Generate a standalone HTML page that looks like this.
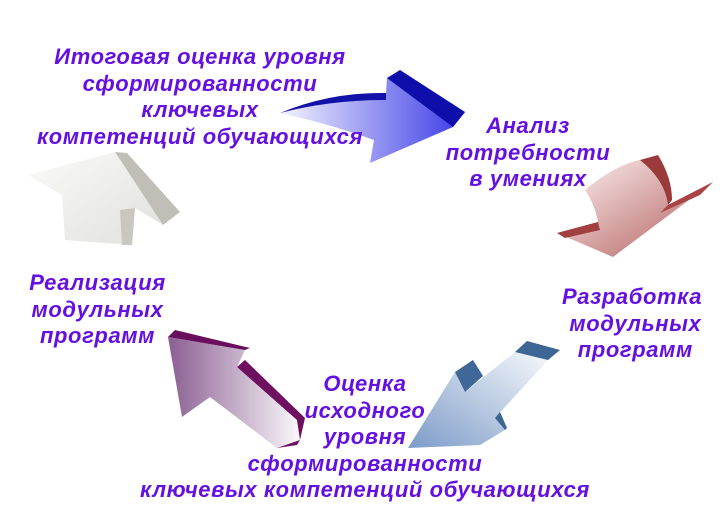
<!DOCTYPE html>
<html><head><meta charset="utf-8"><style>
body{margin:0;width:724px;height:518px;background:#fff;overflow:hidden;position:relative}
.t{position:absolute;font-family:"Liberation Sans",sans-serif;font-weight:bold;font-style:italic;color:#6410e2;font-size:22px;letter-spacing:0.6px;line-height:26.5px;text-align:center;white-space:nowrap}
svg{position:absolute;left:0;top:0}
</style></head><body>
<svg width="724" height="518">
<defs>
<linearGradient id="gb" x1="0" y1="0" x2="1" y2="0"><stop offset="0" stop-color="#f4f4ff"/><stop offset="1" stop-color="#3a3ae6"/></linearGradient>
<linearGradient id="gr" x1="0" y1="0" x2="1" y2="1"><stop offset="0" stop-color="#fff4f4"/><stop offset="1" stop-color="#b05a5a"/></linearGradient>
<linearGradient id="gl" x1="1" y1="0" x2="0" y2="1"><stop offset="0" stop-color="#f6f8fc"/><stop offset="1" stop-color="#7d9cc8"/></linearGradient>
<linearGradient id="gp" x1="1" y1="0" x2="0" y2="0"><stop offset="0" stop-color="#fbf8fb"/><stop offset="1" stop-color="#8a5f92"/></linearGradient>
<linearGradient id="gw" x1="0" y1="0" x2="1" y2="1"><stop offset="0" stop-color="#fafaf8"/><stop offset="1" stop-color="#e0e0dc"/></linearGradient>
</defs>
<path d="M280,113 Q330,92 386,93 L387,78 L465,112 L453,127 L370,163 L374,140 Q330,124 280,113Z" fill="url(#gb)"/>
<path d="M280,113 Q330,92 386,93 L386,100 Q330,100 280,113Z" fill="#1212a8"/>
<path d="M387,78 L400,70 L465,112 L453,127Z" fill="#0e0eaa"/>
<path d="M585,190 Q615,165 640,160 Q665,180 668,205 L713,182 L613,257 L557,233 L598,222 Q595,205 585,190Z" fill="url(#gr)"/>
<path d="M640,160 L658,155 Q672,178 672,200 L668,205 Q665,180 640,160Z" fill="#9a3a3a"/>
<path d="M668,205 L713,182 L700,195 L660,213Z" fill="#a84444"/>
<path d="M557,233 L598,222 L600,230 L565,238Z" fill="#a04040"/>
<path d="M408,448 L455,372 L465,392 L515,352 L548,360 L495,418 L505,430 L480,445Z" fill="url(#gl)"/>
<path d="M455,372 L473,360 L483,376 L465,392Z" fill="#3f6798"/>
<path d="M515,352 L527,341 L560,350 L548,360Z" fill="#3d6694"/>
<path d="M495,418 L500,412 L507,428 L505,430Z" fill="#3d6694"/>
<path d="M168,337 L245,350 L237,367 L300,420 L300,440 L277,448 L210,397 L182,417Z" fill="url(#gp)"/>
<path d="M168,337 L175,330 L250,348 L245,350Z" fill="#6a0f5e"/>
<path d="M237,367 L245,360 L305,418 L300,440 L297,420Z" fill="#6e105f"/>
<path d="M277,448 L300,440 L297,445Z" fill="#6e105f"/>
<path d="M28,175 L115,152 L163,225 L135,208 L132,245 L65,240 L62,195Z" fill="url(#gw)"/>
<path d="M115,152 L127,153 L180,212 L163,225Z" fill="#bfbfb8"/>
<path d="M120,210 L135,208 L132,245 L122,245Z" fill="#c8c8c0"/>
</svg>
<div class="t" style="left:0;width:400px;top:44px">Итоговая оценка уровня<br>сформированности<br>ключевых<br>компетенций обучающихся</div>
<div class="t" style="left:428px;width:200px;top:113px">Анализ<br>потребности<br>в умениях</div>
<div class="t" style="left:532px;width:200px;top:284px">Разработка<br>&nbsp;модульных<br>&nbsp;программ</div>
<div class="t" style="left:0;width:195px;top:270px">Реализация<br>модульных<br>программ</div>
<div class="t" style="left:115px;width:500px;top:371px">Оценка<br>исходного<br>уровня<br>сформированности<br>ключевых компетенций обучающихся</div>
</body></html>
